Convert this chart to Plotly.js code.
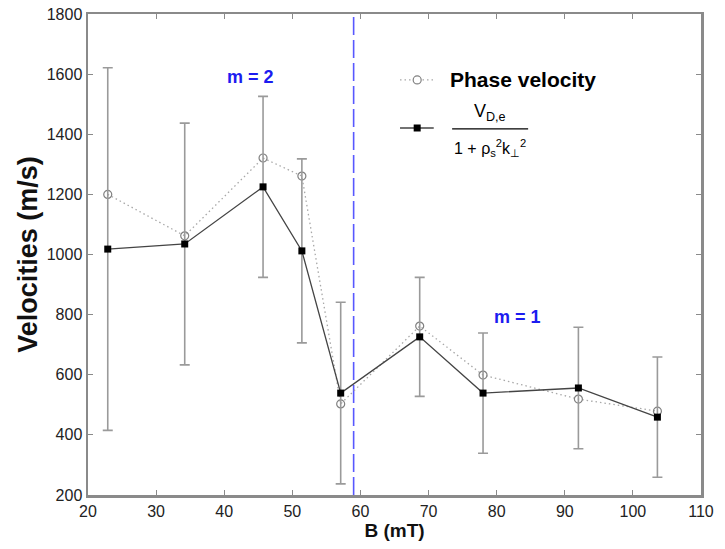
<!DOCTYPE html>
<html>
<head>
<meta charset="utf-8">
<script src="https://cdn.plot.ly/plotly-3.0.1.min.js"></script>
<style>html,body{margin:0;padding:0;background:#fff;}#chart{width:725px;height:549px;}</style>
</head>
<body>
<div id="chart"></div>
<script>
// Data
const B = [22.9, 34.2, 45.7, 51.4, 57.1, 68.7, 78.0, 92.0, 103.6];
const phaseVelocity = [1200, 1062, 1321, 1261, 503, 762, 599, 519, 479];
const driftVelocity = [1018, 1035, 1225, 1012, 539, 726, 539, 556, 459];
const driftError = [603, 402, 301, 306, 302, 198, 200, 202, 200];
const transitionB = 59.0;
const modeLabels = [
  {text: 'm = 2', B: 43.8, v: 1590},
  {text: 'm = 1', B: 83.0, v: 792}
];
const xTicks = [20, 30, 40, 50, 60, 70, 80, 90, 100, 110];
const yTicks = [200, 400, 600, 800, 1000, 1200, 1400, 1600, 1800];

const FONT = 'Liberation Sans, Arial, Helvetica, sans-serif';

const traces = [
  {
    x: B, y: phaseVelocity, type: 'scatter', mode: 'lines+markers',
    name: 'Phase velocity',
    line: {color: '#a8a8a8', width: 1.3, dash: '1.5px,3px'},
    marker: {symbol: 'circle-open', size: 8, color: '#808080', line: {width: 1.2}},
    showlegend: false
  },
  {
    x: B, y: driftVelocity, type: 'scatter', mode: 'lines+markers',
    name: 'V_D,e / (1 + rho_s^2 k_perp^2)',
    line: {color: '#444', width: 1.3},
    marker: {symbol: 'square', size: 7, color: '#000'},
    error_y: {type: 'data', array: driftError, visible: true, color: '#9a9a9a', thickness: 1.6, width: 5},
    showlegend: false
  }
];

// legend geometry (paper coords)
const lgX0 = 0.509, lgX1 = 0.564, lgMid = 0.537;
const row1 = 0.863, row2 = 0.763;

const shapes = [
  {type: 'line', xref: 'x', yref: 'paper', x0: transitionB, x1: transitionB, y0: 0, y1: 1,
   line: {color: 'rgba(70,70,255,0.9)', width: 1.6, dash: '18px,5px'}, layer: 'below'},
  {type: 'line', xref: 'paper', yref: 'paper', x0: lgX0, x1: lgX1, y0: row1, y1: row1,
   line: {color: '#a8a8a8', width: 1.3, dash: '1.5px,3px'}},
  {type: 'circle', xref: 'paper', yref: 'paper', xsizemode: 'pixel', ysizemode: 'pixel',
   xanchor: lgMid, yanchor: row1, x0: -4, x1: 4, y0: -4, y1: 4,
   line: {color: '#808080', width: 1.2}, fillcolor: '#fff'},
  {type: 'line', xref: 'paper', yref: 'paper', x0: lgX0, x1: lgX1, y0: row2, y1: row2,
   line: {color: '#444', width: 1.3}},
  {type: 'rect', xref: 'paper', yref: 'paper', xsizemode: 'pixel', ysizemode: 'pixel',
   xanchor: lgMid, yanchor: row2, x0: -3.5, x1: 3.5, y0: -3.5, y1: 3.5,
   line: {color: '#000', width: 0}, fillcolor: '#000'},
  // fraction bar
  {type: 'line', xref: 'paper', yref: 'paper', x0: 0.594, x1: 0.718, y0: 0.761, y1: 0.761,
   line: {color: '#000', width: 1.3}}
];

const annotations = modeLabels.map(m => ({
  x: m.B, y: m.v, xref: 'x', yref: 'y', text: '<b>' + m.text + '</b>', showarrow: false,
  font: {family: FONT, size: 18, color: '#1c1cf0'}
})).concat([
  {x: 0.587, y: row1, xref: 'paper', yref: 'paper', xanchor: 'left', yanchor: 'middle',
   text: '<b>Phase velocity</b>', showarrow: false, font: {family: FONT, size: 21, color: '#000'}},
  {x: 0.656, y: 0.796, xref: 'paper', yref: 'paper', xanchor: 'center', yanchor: 'middle',
   text: 'V<sub>D,e</sub>', showarrow: false, font: {family: FONT, size: 18, color: '#000'}},
  {x: 0.656, y: 0.722, xref: 'paper', yref: 'paper', xanchor: 'center', yanchor: 'middle',
   text: '1 + ρ<sub>s</sub><sup>2</sup>k<sub>⊥</sub><sup>2</sup>', showarrow: false,
   font: {family: FONT, size: 16, color: '#000'}}
]);

const axisCommon = {
  showline: true, linecolor: '#8a8a8a', linewidth: 2.5, mirror: 'ticks',
  ticks: 'inside', ticklen: 5, tickwidth: 1, tickcolor: '#8a8a8a',
  showgrid: false, zeroline: false,
  tickfont: {family: FONT, size: 16, color: '#222'}
};

const layout = {
  width: 725, height: 549,
  margin: {l: 88, r: 24, t: 14, b: 54},
  paper_bgcolor: '#fff', plot_bgcolor: '#fff',
  xaxis: Object.assign({}, axisCommon, {
    range: [20, 110], tickvals: xTicks, ticktext: xTicks.map(String),
    title: {text: '<b>B (mT)</b>', font: {family: FONT, size: 19, color: '#111'}, standoff: 4}
  }),
  yaxis: Object.assign({}, axisCommon, {
    range: [200, 1800], tickvals: yTicks, ticktext: yTicks.map(String),
    title: {text: '<b>Velocities (m/s)</b>', font: {family: FONT, size: 27, color: '#111'}, standoff: 2}
  }),
  shapes: shapes,
  annotations: annotations,
  showlegend: false
};

Plotly.newPlot('chart', traces, layout, {displayModeBar: false, staticPlot: true});
</script>
</body>
</html>
